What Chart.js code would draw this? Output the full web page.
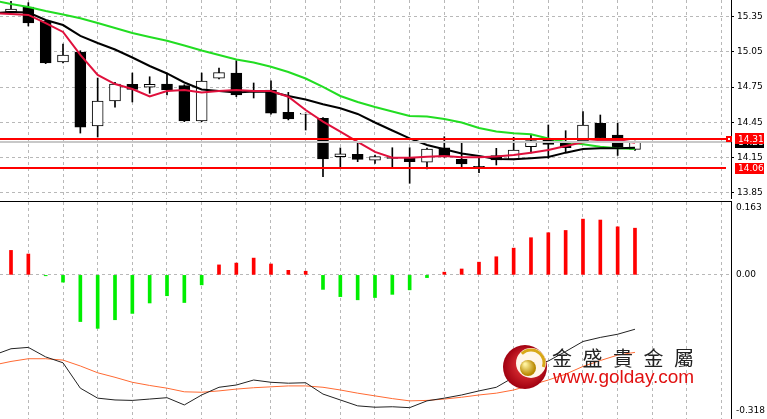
<!DOCTYPE html>
<html lang="zh-Hant">
<head>
  <meta charset="UTF-8">
  <title>K線圖 MACD</title>
  <script src="https://cdn.jsdelivr.net/npm/chart.js"></script>
  <style>
    html, body { margin: 0; padding: 0; background: #fff; }
    #wrap { position: relative; width: 767px; height: 419px; overflow: hidden; }
    #wrap canvas { position: absolute; left: 0; }
    #priceChart { top: 0; }
    #macdChart { top: 199px; }
  </style>
</head>
<body>
  <div id="wrap">
    <canvas id="priceChart" width="767" height="199"></canvas>
    <canvas id="macdChart" width="767" height="220"></canvas>
  </div>
  <script>
    // K線 (index 0..36)
    const opens  = [15.390, 15.433, 15.313, 14.964, 15.049, 14.418, 14.631, 14.774, 14.750, 14.776, 14.762, 14.461, 14.825, 14.870, 14.717, 14.725, 14.535, 14.520, 14.484, 14.157, 14.177, 14.126, 14.150, 14.148, 14.109, 14.233, 14.134, 14.075, 14.165, 14.134, 14.242, 14.305, 14.271, 14.290, 14.441, 14.341, 14.219];
    const highs  = [15.480, 15.470, 15.320, 15.117, 15.060, 14.827, 14.790, 14.870, 14.838, 14.870, 14.770, 14.870, 14.913, 14.975, 14.785, 14.804, 14.705, 14.530, 14.490, 14.231, 14.284, 14.170, 14.233, 14.233, 14.230, 14.327, 14.284, 14.157, 14.228, 14.322, 14.341, 14.427, 14.378, 14.542, 14.512, 14.441, 14.290];
    const lows   = [15.385, 15.271, 14.950, 14.955, 14.358, 14.324, 14.579, 14.623, 14.697, 14.683, 14.455, 14.455, 14.820, 14.668, 14.657, 14.520, 14.470, 14.384, 13.986, 14.071, 14.114, 14.100, 14.071, 13.930, 14.052, 14.151, 14.071, 14.020, 14.086, 14.130, 14.188, 14.143, 14.199, 14.280, 14.300, 14.167, 14.210];
    const closes = [15.416, 15.296, 14.955, 15.023, 14.409, 14.631, 14.776, 14.731, 14.774, 14.725, 14.461, 14.802, 14.873, 14.683, 14.708, 14.527, 14.478, 14.527, 14.137, 14.180, 14.134, 14.157, 14.142, 14.114, 14.222, 14.162, 14.094, 14.066, 14.128, 14.213, 14.293, 14.262, 14.233, 14.427, 14.312, 14.242, 14.284];

    // 均線 (index -1..36)
    const maStart = -1;
    const maRed   = [15.381, 15.373, 15.365, 15.296, 15.220, 15.024, 14.853, 14.776, 14.734, 14.670, 14.717, 14.725, 14.704, 14.717, 14.725, 14.717, 14.717, 14.668, 14.555, 14.455, 14.370, 14.282, 14.197, 14.148, 14.148, 14.157, 14.163, 14.152, 14.152, 14.158, 14.171, 14.191, 14.214, 14.248, 14.279, 14.293, 14.299, 14.276];
    const maBlack = [15.381, 15.390, 15.386, 15.322, 15.279, 15.186, 15.126, 15.070, 15.002, 14.930, 14.866, 14.789, 14.729, 14.717, 14.704, 14.712, 14.711, 14.674, 14.644, 14.603, 14.569, 14.521, 14.448, 14.380, 14.313, 14.256, 14.220, 14.184, 14.163, 14.137, 14.134, 14.143, 14.154, 14.191, 14.222, 14.228, 14.228, 14.233];
    const maGreen = [15.488, 15.458, 15.433, 15.399, 15.369, 15.336, 15.296, 15.254, 15.211, 15.177, 15.145, 15.105, 15.062, 15.024, 14.985, 14.960, 14.924, 14.879, 14.823, 14.751, 14.674, 14.623, 14.580, 14.542, 14.504, 14.499, 14.478, 14.448, 14.401, 14.371, 14.356, 14.348, 14.312, 14.282, 14.262, 14.242, 14.228, 14.222];

    const priceTicks = [15.35, 15.05, 14.75, 14.45, 14.15, 13.85];
    const levelPrices = [14.31, 14.06];
    const bidPrice = 14.28;

    // MACD
    const macdHist = [0.054, 0.046, -0.002, -0.016, -0.103, -0.118, -0.099, -0.085, -0.062, -0.046, -0.061, -0.022, 0.022, 0.026, 0.037, 0.024, 0.010, 0.008, -0.032, -0.048, -0.055, -0.050, -0.043, -0.033, -0.006, 0.006, 0.013, 0.028, 0.040, 0.059, 0.082, 0.093, 0.098, 0.123, 0.121, 0.106, 0.103];
    const macdDif  = [-0.177, -0.163, -0.160, -0.181, -0.194, -0.250, -0.272, -0.276, -0.277, -0.274, -0.271, -0.287, -0.265, -0.248, -0.243, -0.232, -0.237, -0.239, -0.238, -0.263, -0.276, -0.289, -0.292, -0.291, -0.293, -0.278, -0.272, -0.265, -0.256, -0.248, -0.226, -0.202, -0.190, -0.169, -0.147, -0.138, -0.131, -0.120];
    const macdDea  = [-0.199, -0.191, -0.185, -0.185, -0.188, -0.201, -0.216, -0.226, -0.237, -0.244, -0.250, -0.258, -0.259, -0.256, -0.252, -0.249, -0.247, -0.245, -0.245, -0.248, -0.254, -0.261, -0.267, -0.273, -0.278, -0.277, -0.274, -0.270, -0.265, -0.261, -0.254, -0.243, -0.232, -0.219, -0.202, -0.189, -0.177, -0.171];
    const macdTicks = [0.163, 0.00, -0.318];

    const gridColor = '#b8b8b8';
    const axisFont = { family: '"DejaVu Sans", sans-serif', size: 9 };

    const toPoints = (arr, start) => arr.map((v, i) => ({ x: i + start, y: v }));

    // x 軸: 可見範圍 (左邊緣到右軸線)
    const xRange = { min: -0.635, max: 41.54 };
    function oddGrid(scale) {
      const t = [];
      for (let i = 1; i < scale.max; i += 2) t.push({ value: i });
      scale.ticks = t;
    }
    function xAxis(position) {
      return {
        type: 'linear', position: position, min: xRange.min, max: xRange.max,
        offset: false,
        afterBuildTicks: oddGrid,
        ticks: { display: false },
        grid: { color: gridColor, drawTicks: false, offset: false },
        border: { display: true, color: '#000', width: 1, dash: [3, 3] }
      };
    }
    // 右軸固定寬度, 不預留標籤溢出空間
    function fixRight(s) {
      s.width = 36;
      s.paddingTop = 0;
      s.paddingBottom = 0;
    }

    // 價位線 / 標籤
    const priceOverlay = {
      id: 'priceOverlay',
      afterDatasetsDraw(chart) {
        const { ctx, chartArea: a, scales: { y } } = chart;
        ctx.save();
        const yb = Math.round(y.getPixelForValue(bidPrice));
        ctx.strokeStyle = '#c8c8c8';
        ctx.lineWidth = 2;
        ctx.beginPath(); ctx.moveTo(a.left, yb); ctx.lineTo(a.right, yb); ctx.stroke();
        ctx.strokeStyle = '#ff0000';
        levelPrices.forEach(p => {
          const yl = Math.round(y.getPixelForValue(p));
          ctx.beginPath(); ctx.moveTo(a.left, yl); ctx.lineTo(a.right - 5, yl); ctx.stroke();
        });
        const ym = Math.round(y.getPixelForValue(levelPrices[0]));
        ctx.fillStyle = '#ff0000';
        ctx.fillRect(a.right - 5, ym - 3, 6, 6);
        ctx.fillStyle = '#fff';
        ctx.fillRect(a.right - 3, ym - 1, 2, 2);
        ctx.restore();
      },
      afterDraw(chart) {
        const { ctx, chartArea: a, scales: { y } } = chart;
        ctx.save();
        ctx.font = '9px "DejaVu Sans", sans-serif';
        ctx.textBaseline = 'middle';
        ctx.textAlign = 'left';
        const box = (p, bg, text) => {
          const yc = y.getPixelForValue(p);
          ctx.fillStyle = bg;
          ctx.fillRect(a.right + 4, Math.round(yc - 5.5), 29, 11);
          ctx.fillStyle = '#fff';
          ctx.fillText(text, a.right + 7, yc + 0.5);
        };
        box(bidPrice, '#000', bidPrice.toFixed(2));
        levelPrices.forEach(p => box(p, '#ff0000', p.toFixed(2)));
        ctx.restore();
      }
    };

    new Chart(document.getElementById('priceChart'), {
      data: {
        datasets: [
          { type: 'line', data: toPoints(maRed, maStart), borderColor: '#e0103c', borderWidth: 2, pointRadius: 0, order: 0 },
          { type: 'line', data: toPoints(maBlack, maStart), borderColor: '#000', borderWidth: 2, pointRadius: 0, order: 0 },
          { type: 'line', data: toPoints(maGreen, maStart), borderColor: '#22dd22', borderWidth: 2, pointRadius: 0, order: 0 },
          {
            type: 'bar', data: opens.map((o, i) => ({ x: i, y: [o, closes[i]] })),
            backgroundColor: opens.map((o, i) => closes[i] >= o ? '#fff' : '#000'),
            borderColor: '#000', borderWidth: 1, borderSkipped: false,
            barThickness: 11, grouped: false, order: 1
          },
          {
            type: 'bar', data: lows.map((l, i) => ({ x: i, y: [l, highs[i]] })),
            backgroundColor: '#000', borderWidth: 0,
            barThickness: 1, grouped: false, order: 2
          }
        ]
      },
      options: {
        responsive: false, animation: false,
        layout: { padding: 0 },
        plugins: { legend: { display: false }, tooltip: { enabled: false } },
        scales: {
          x: xAxis('bottom'),
          y: {
            position: 'right', min: 13.7959, max: 15.4924,
            afterBuildTicks: s => { s.ticks = priceTicks.map(v => ({ value: v })); },
            afterFit: fixRight,
            ticks: { color: '#000', font: axisFont, padding: 3, callback: v => v.toFixed(2) },
            grid: { color: gridColor, tickColor: '#000', tickLength: 3, tickBorderDash: [] },
            border: { display: true, color: '#000', width: 1, dash: [3, 3] }
          }
        }
      },
      plugins: [priceOverlay]
    });

    // MACD 標籤與浮水印
    const macdOverlay = {
      id: 'macdOverlay',
      afterDatasetsDraw(chart) {
        const { ctx } = chart;
        ctx.save();
        // logo
        const cx = 525, cy = 168;
        let g = ctx.createRadialGradient(cx + 4, cy - 4, 4, cx, cy, 22);
        g.addColorStop(0, '#f04040'); g.addColorStop(1, '#a00010');
        ctx.fillStyle = g;
        ctx.beginPath(); ctx.arc(cx, cy, 22, 0, Math.PI * 2); ctx.fill();
        ctx.fillStyle = '#fff6ea';
        ctx.beginPath(); ctx.arc(cx + 6, cy - 4, 15, 0, Math.PI * 2); ctx.fill();
        ctx.strokeStyle = '#d8a818'; ctx.lineWidth = 3;
        ctx.beginPath(); ctx.arc(cx + 6, cy - 4, 13, -Math.PI * 0.75, Math.PI * 0.1); ctx.stroke();
        g = ctx.createRadialGradient(cx, cy - 3, 1, cx + 2, cy, 8);
        g.addColorStop(0, '#fff3a0'); g.addColorStop(1, '#b88800');
        ctx.fillStyle = g;
        ctx.beginPath(); ctx.arc(cx + 3, cy + 1, 8, 0, Math.PI * 2); ctx.fill();
        // 文字
        ctx.fillStyle = '#222';
        ctx.font = '20px "Noto Sans CJK TC", sans-serif';
        ctx.textBaseline = 'middle';
        ctx.textAlign = 'left';
        [...'金盛貴金屬'].forEach((ch, k) => ctx.fillText(ch, 552 + k * 30.5, 159));
        ctx.fillStyle = '#e01010';
        ctx.font = '19px "Liberation Sans", sans-serif';
        ctx.textBaseline = 'alphabetic';
        ctx.fillText('www.golday.com', 553, 184);
        ctx.restore();
      },
      afterDraw(chart) {
        const { ctx, chartArea: a, scales: { y } } = chart;
        ctx.save();
        ctx.font = '9px "DejaVu Sans", sans-serif';
        ctx.fillStyle = '#000';
        ctx.textBaseline = 'middle';
        ctx.textAlign = 'left';
        macdTicks.forEach(v => {
          const yy = Math.min(Math.max(y.getPixelForValue(v), a.top + 7), a.bottom - 8);
          ctx.fillText(v.toFixed(v === 0 ? 2 : 3), a.right + 5, yy);
        });
        ctx.restore();
      }
    };

    new Chart(document.getElementById('macdChart'), {
      data: {
        datasets: [
          { type: 'line', data: toPoints(macdDif, maStart), borderColor: '#222', borderWidth: 1, pointRadius: 0, order: 0 },
          { type: 'line', data: toPoints(macdDea, maStart), borderColor: '#ff6a33', borderWidth: 1, pointRadius: 0, order: 0 },
          {
            type: 'bar', data: macdHist.map((v, i) => ({ x: i, y: v })),
            backgroundColor: macdHist.map(v => v >= 0 ? '#ff0000' : '#00ee00'),
            barThickness: 3, grouped: false, order: 1
          }
        ]
      },
      options: {
        responsive: false, animation: false,
        layout: { padding: { top: 2 } },
        plugins: { legend: { display: false }, tooltip: { enabled: false } },
        scales: {
          x: xAxis('top'),
          y: {
            position: 'right', min: -0.318, max: 0.163,
            afterBuildTicks: s => { s.ticks = [{ value: 0 }]; },
            afterFit: fixRight,
            ticks: { display: false },
            grid: { color: gridColor, drawTicks: false },
            border: { display: true, color: '#000', width: 1, dash: [3, 3] }
          }
        }
      },
      plugins: [macdOverlay]
    });
  </script>
</body>
</html>
